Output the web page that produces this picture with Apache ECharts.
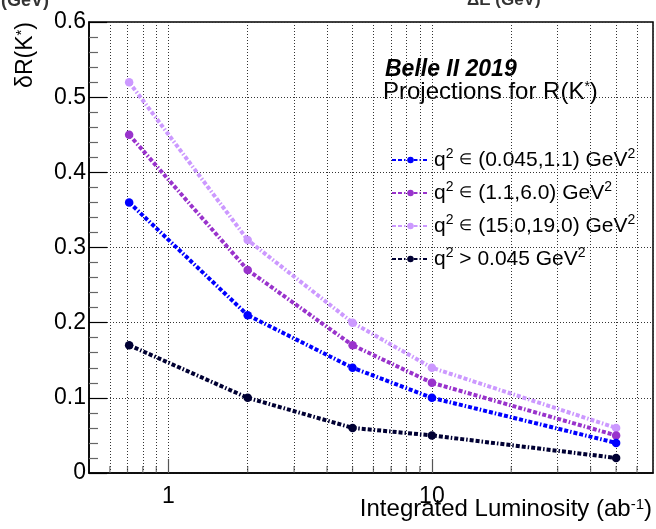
<!DOCTYPE html>
<html>
<head>
<meta charset="utf-8">
<script src="https://cdn.jsdelivr.net/npm/echarts@6/dist/echarts.min.js"></script>
<style>
  html, body { margin: 0; padding: 0; background: #fff; }
  #chart { width: 656px; height: 529px; }
</style>
</head>
<body>
<div id="chart"></div>
<script>
// Integrated luminosity points (ab^-1)
const luminosity = [0.71, 2, 5, 10, 50];

// Relative uncertainty on R(K*) per q^2 bin
const lowQ2 = [0.36, 0.21, 0.14, 0.10, 0.04];
const centralQ2 = [0.45, 0.27, 0.17, 0.12, 0.05];
const highQ2 = [0.52, 0.31, 0.20, 0.14, 0.06];
const allQ2 = [0.17, 0.10, 0.06, 0.05, 0.02];

const seriesNames = [
  'q{s|2} {e|∈} (0.045,1.1) GeV{s|2}',
  'q{s|2} {e|∈} (1.1,6.0) GeV{s|2}',
  'q{s|2} {e|∈} (15.0,19.0) GeV{s|2}',
  'q{s|2} > 0.045 GeV{s|2}'
];
const seriesValues = [lowQ2, centralQ2, highQ2, allQ2];
const seriesColors = ['#0000ff', '#9933cc', '#cc99ff', '#000033'];

// Log-axis sub-decade tick positions
const xMinorTicks = [0.6, 0.7, 0.8, 0.9, 2, 3, 4, 5, 6, 7, 8, 9, 20, 30, 40, 50, 60];

const FONT = '"Liberation Sans", Arial, Helvetica, sans-serif';
const dashDot = [4, 2, 4, 2, 1.5, 2];
const gridDots = { type: [1, 2], color: '#333', width: 1 };

const chart = echarts.init(document.getElementById('chart'), null, { renderer: 'canvas' });

const dataSeries = seriesNames.map((name, i) => ({
  name: name,
  type: 'line',
  data: luminosity.map((x, k) => [x, seriesValues[i][k]]),
  symbol: 'circle',
  symbolSize: 8.5,
  showSymbol: true,
  color: seriesColors[i],
  lineStyle: { width: 4, type: dashDot, color: seriesColors[i], cap: 'butt' },
  itemStyle: { color: seriesColors[i] },
  z: 10 - i
}));

const minorTickSeries = {
  name: 'minor',
  type: 'scatter',
  silent: true,
  data: xMinorTicks.map(v => [v, 0]),
  symbol: 'rect',
  symbolSize: [1.2, 7],
  symbolOffset: [0, -3.5],
  itemStyle: { color: '#555' },
  z: 1,
  markLine: {
    silent: true,
    symbol: ['none', 'none'],
    label: { show: false },
    lineStyle: gridDots,
    emphasis: { disabled: true },
    data: xMinorTicks.map(v => ({ xAxis: v }))
  }
};

const supStyle = { fontSize: 14, verticalAlign: 'top', lineHeight: 14, fontFamily: FONT };

chart.setOption({
  animation: false,
  backgroundColor: '#fff',
  textStyle: { fontFamily: FONT },
  grid: {
    left: 89, right: 3, top: 22, bottom: 56,
    show: true, borderColor: '#000', borderWidth: 1.5,
    containLabel: false,
    outerBoundsMode: 'none'
  },
  xAxis: {
    type: 'log',
    logBase: 10,
    min: 0.5,
    max: 69,
    axisLine: { show: true, lineStyle: { color: '#000', width: 1.5 } },
    axisTick: { show: true, inside: true, length: 14, lineStyle: { color: '#555', width: 1.2 } },
    axisLabel: {
      fontSize: 23, color: '#000', margin: 12,
      showMinLabel: false, showMaxLabel: false
    },
    splitLine: { show: true, lineStyle: gridDots },
    minorTick: { show: false },
    minorSplitLine: { show: false }
  },
  yAxis: {
    type: 'value',
    min: 0,
    max: 0.6,
    interval: 0.1,
    axisLine: { show: true, lineStyle: { color: '#000', width: 1.5 } },
    axisTick: { show: true, inside: true, length: 18, lineStyle: { color: '#000', width: 1.2 } },
    minorTick: { show: true, splitNumber: 5, length: 9, lineStyle: { color: '#666', width: 1.2 } },
    axisLabel: { fontSize: 23, color: '#000', margin: 3 },
    splitLine: { show: true, lineStyle: gridDots }
  },
  legend: {
    left: 386,
    top: 142,
    orient: 'vertical',
    itemWidth: 37,
    itemHeight: 8,
    itemGap: 7,
    data: seriesNames,
    selectedMode: false,
    textStyle: {
      fontFamily: FONT, fontSize: 21, color: '#000', lineHeight: 26,
      rich: { s: supStyle, e: { fontSize: 15, fontFamily: FONT } }
    }
  },
  graphic: [
    {
      type: 'text', left: 385, top: 58,
      style: { text: 'Belle II 2019', font: 'italic bold 23px ' + FONT, fill: '#000' }
    },
    {
      type: 'text', left: 383, top: 80,
      style: {
        text: 'Projections for R(K{s|*})', font: '24px ' + FONT, fill: '#000',
        rich: { s: supStyle }
      }
    },
    {
      type: 'text', x: 26, y: 22, rotation: Math.PI / 2,
      style: {
        text: 'δR(K{s|*})', font: '23px ' + FONT, fill: '#000',
        align: 'right', verticalAlign: 'middle',
        rich: { s: { fontSize: 15, verticalAlign: 'top', lineHeight: 14, fontFamily: FONT } }
      }
    },
    {
      type: 'text', x: 652, y: 497,
      style: {
        text: 'Integrated Luminosity (ab{s|-1})', font: '24px ' + FONT, fill: '#000',
        align: 'right', verticalAlign: 'top',
        rich: { s: { fontSize: 15, verticalAlign: 'top', lineHeight: 15, fontFamily: FONT } }
      }
    },
    {
      type: 'text', x: 467, y: 9,
      style: { text: 'ΔE (GeV)', font: 'bold 17px ' + FONT, fill: '#333', verticalAlign: 'bottom' }
    },
    {
      type: 'text', x: 49, y: 10,
      style: { text: '(GeV)', font: 'bold 18px ' + FONT, fill: '#333', align: 'right', verticalAlign: 'bottom' }
    }
  ],
  series: [minorTickSeries].concat(dataSeries)
});
</script>
</body>
</html>
